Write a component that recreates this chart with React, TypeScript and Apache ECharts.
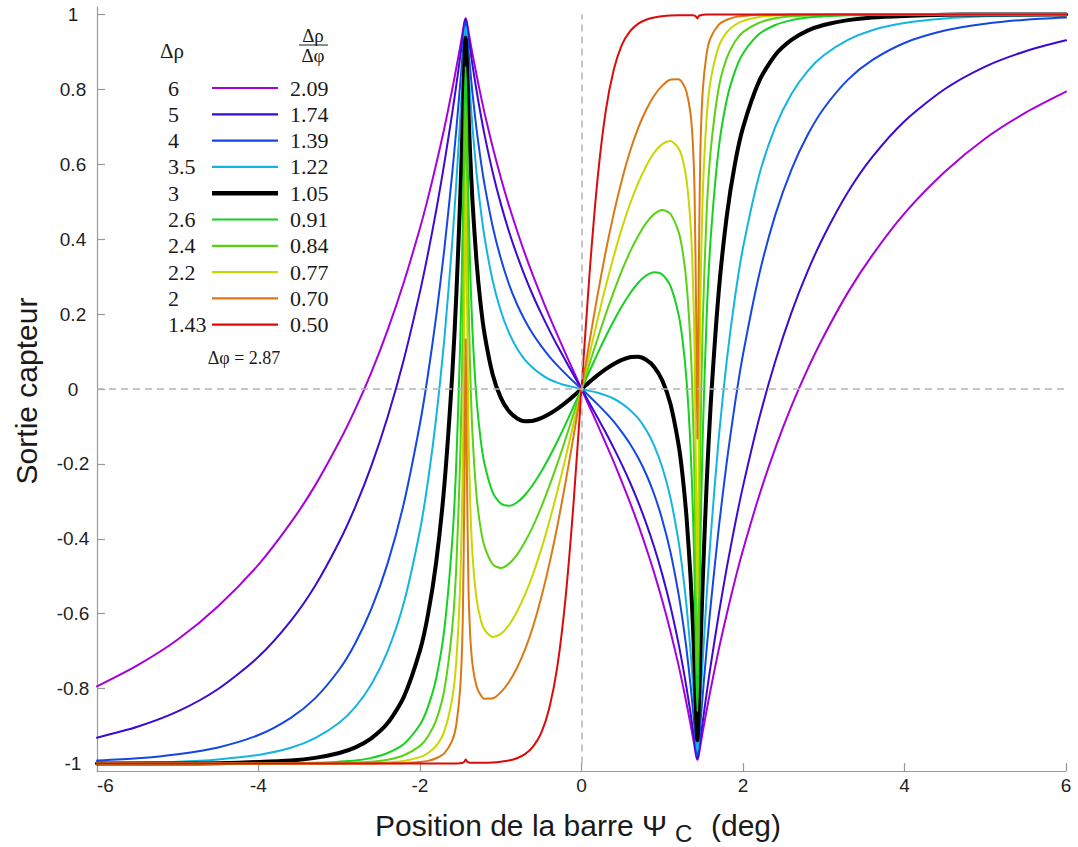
import React, { useEffect, useRef } from 'react';
import * as echarts from 'echarts';

// Bar position (deg)
const xs = [-6, -5.5, -5, -4.5, -4, -3.6, -3.3, -3, -2.8, -2.6, -2.4, -2.2, -2, -1.9, -1.8, -1.7, -1.6, -1.55, -1.5, -1.47,
  -1.45, -1.435, -1.42, -1.4, -1.38, -1.35, -1.3, -1.25, -1.2, -1.1, -1, -0.9, -0.8, -0.7, -0.6, -0.5, -0.4, -0.3, -0.2, -0.1,
  0, 0.1, 0.2, 0.3, 0.4, 0.5, 0.6, 0.7, 0.8, 0.9, 1, 1.1, 1.2, 1.25, 1.3, 1.35, 1.38, 1.4, 1.42, 1.435,
  1.45, 1.47, 1.5, 1.55, 1.6, 1.7, 1.8, 1.9, 2, 2.2, 2.4, 2.6, 2.8, 3, 3.3, 3.6, 4, 4.5, 5, 5.5, 6];

// Sensor output for each Δρ
const yRho6 = [-0.794, -0.738, -0.669, -0.580, -0.469, -0.357, -0.258, -0.141, -0.053, 0.046, 0.158, 0.285, 0.430, 0.511, 0.600, 0.695, 0.801, 0.858, 0.917, 0.955,
  0.980, 0.990, 0.980, 0.955, 0.930, 0.895, 0.839, 0.786, 0.736, 0.646, 0.565, 0.491, 0.424, 0.361, 0.303, 0.248, 0.195, 0.145, 0.096, 0.048,
  0, -0.048, -0.096, -0.145, -0.195, -0.248, -0.303, -0.361, -0.424, -0.491, -0.565, -0.646, -0.736, -0.786, -0.839, -0.895, -0.930, -0.955, -0.980, -0.990,
  -0.980, -0.955, -0.917, -0.858, -0.801, -0.695, -0.600, -0.511, -0.430, -0.285, -0.158, -0.046, 0.053, 0.141, 0.258, 0.357, 0.469, 0.580, 0.669, 0.738, 0.794];
const yRho5 = [-0.931, -0.902, -0.861, -0.801, -0.715, -0.619, -0.526, -0.408, -0.314, -0.204, -0.074, 0.079, 0.260, 0.363, 0.476, 0.601, 0.738, 0.812, 0.891, 0.940,
  0.974, 0.987, 0.974, 0.941, 0.910, 0.865, 0.797, 0.735, 0.678, 0.579, 0.495, 0.422, 0.358, 0.301, 0.249, 0.202, 0.158, 0.116, 0.077, 0.038,
  0, -0.038, -0.077, -0.116, -0.158, -0.202, -0.249, -0.301, -0.358, -0.422, -0.495, -0.579, -0.678, -0.735, -0.797, -0.865, -0.910, -0.941, -0.974, -0.987,
  -0.974, -0.940, -0.891, -0.812, -0.738, -0.601, -0.476, -0.363, -0.260, -0.079, 0.074, 0.204, 0.314, 0.408, 0.526, 0.619, 0.715, 0.801, 0.861, 0.902, 0.931];
const yRho4 = [-0.992, -0.986, -0.975, -0.957, -0.924, -0.878, -0.826, -0.749, -0.678, -0.586, -0.465, -0.305, -0.092, 0.040, 0.193, 0.371, 0.578, 0.694, 0.820, 0.901,
  0.957, 0.979, 0.958, 0.905, 0.857, 0.790, 0.694, 0.614, 0.545, 0.434, 0.349, 0.281, 0.227, 0.183, 0.146, 0.115, 0.087, 0.063, 0.041, 0.020,
  0, -0.020, -0.041, -0.063, -0.087, -0.115, -0.146, -0.183, -0.227, -0.281, -0.349, -0.434, -0.545, -0.614, -0.694, -0.790, -0.857, -0.905, -0.958, -0.979,
  -0.957, -0.901, -0.820, -0.694, -0.578, -0.371, -0.193, -0.040, 0.092, 0.305, 0.465, 0.586, 0.678, 0.749, 0.826, 0.878, 0.924, 0.957, 0.975, 0.986, 0.992];
const yRho35 = [-0.999, -0.997, -0.995, -0.989, -0.977, -0.958, -0.932, -0.891, -0.849, -0.788, -0.700, -0.571, -0.377, -0.244, -0.078, 0.130, 0.394, 0.552, 0.730, 0.849,
  0.934, 0.967, 0.936, 0.858, 0.789, 0.699, 0.578, 0.482, 0.404, 0.289, 0.209, 0.151, 0.109, 0.078, 0.056, 0.039, 0.026, 0.017, 0.010, 0.005,
  0, -0.005, -0.010, -0.017, -0.026, -0.039, -0.056, -0.078, -0.109, -0.151, -0.209, -0.289, -0.404, -0.482, -0.578, -0.699, -0.789, -0.858, -0.936, -0.967,
  -0.934, -0.849, -0.730, -0.552, -0.394, -0.130, 0.078, 0.244, 0.377, 0.571, 0.700, 0.788, 0.849, 0.891, 0.932, 0.958, 0.977, 0.989, 0.995, 0.997, 0.999];
const yRho3 = [-1, -1, -1, -0.999, -0.996, -0.992, -0.985, -0.972, -0.957, -0.932, -0.892, -0.822, -0.698, -0.601, -0.463, -0.261, 0.041, 0.252, 0.522, 0.721,
  0.873, 0.938, 0.878, 0.743, 0.633, 0.501, 0.341, 0.228, 0.146, 0.039, -0.023, -0.059, -0.078, -0.086, -0.085, -0.078, -0.067, -0.053, -0.037, -0.019,
  0, 0.019, 0.037, 0.053, 0.067, 0.078, 0.085, 0.086, 0.078, 0.059, 0.023, -0.039, -0.146, -0.228, -0.341, -0.501, -0.633, -0.743, -0.878, -0.938,
  -0.873, -0.721, -0.522, -0.252, -0.041, 0.261, 0.463, 0.601, 0.698, 0.822, 0.892, 0.932, 0.957, 0.972, 0.985, 0.992, 0.996, 0.999, 1, 1, 1];
const yRho26 = [-1, -1, -1, -1, -1, -0.999, -0.998, -0.995, -0.992, -0.985, -0.972, -0.948, -0.896, -0.848, -0.773, -0.644, -0.403, -0.194, 0.138, 0.445,
  0.727, 0.861, 0.740, 0.499, 0.330, 0.154, -0.026, -0.133, -0.201, -0.276, -0.306, -0.312, -0.303, -0.283, -0.255, -0.221, -0.182, -0.140, -0.095, -0.048,
  0, 0.048, 0.095, 0.140, 0.182, 0.221, 0.255, 0.283, 0.303, 0.312, 0.306, 0.276, 0.201, 0.133, 0.026, -0.154, -0.330, -0.499, -0.740, -0.861,
  -0.727, -0.445, -0.138, 0.194, 0.403, 0.644, 0.773, 0.848, 0.896, 0.948, 0.972, 0.985, 0.992, 0.995, 0.998, 0.999, 1, 1, 1, 1, 1];
const yRho24 = [-1, -1, -1, -1, -1, -1, -0.999, -0.999, -0.997, -0.995, -0.990, -0.978, -0.953, -0.927, -0.884, -0.805, -0.637, -0.472, -0.166, 0.177,
  0.555, 0.764, 0.580, 0.257, 0.061, -0.120, -0.284, -0.371, -0.421, -0.468, -0.478, -0.467, -0.443, -0.408, -0.366, -0.316, -0.260, -0.200, -0.135, -0.068,
  0, 0.068, 0.135, 0.200, 0.260, 0.316, 0.366, 0.408, 0.443, 0.467, 0.478, 0.468, 0.421, 0.371, 0.284, 0.120, -0.061, -0.257, -0.580, -0.764,
  -0.555, -0.177, 0.166, 0.472, 0.637, 0.805, 0.884, 0.927, 0.953, 0.978, 0.990, 0.995, 0.997, 0.999, 0.999, 1, 1, 1, 1, 1, 1];
const yRho22 = [-1, -1, -1, -1, -1, -1, -1, -1, -0.999, -0.999, -0.997, -0.993, -0.983, -0.972, -0.953, -0.915, -0.825, -0.725, -0.509, -0.204,
  0.241, 0.556, 0.282, -0.104, -0.292, -0.442, -0.560, -0.615, -0.643, -0.662, -0.654, -0.631, -0.595, -0.549, -0.494, -0.429, -0.355, -0.274, -0.186, -0.094,
  0, 0.094, 0.186, 0.274, 0.355, 0.429, 0.494, 0.549, 0.595, 0.631, 0.654, 0.662, 0.643, 0.615, 0.560, 0.442, 0.292, 0.104, -0.282, -0.556,
  -0.241, 0.204, 0.509, 0.725, 0.825, 0.915, 0.953, 0.972, 0.983, 0.993, 0.997, 0.999, 0.999, 1, 1, 1, 1, 1, 1, 1, 1];
const yRho2 = [-1, -1, -1, -1, -1, -1, -1, -1, -1, -1, -0.999, -0.999, -0.996, -0.993, -0.986, -0.973, -0.938, -0.896, -0.792, -0.613,
  -0.250, 0.133, -0.198, -0.528, -0.651, -0.735, -0.794, -0.817, -0.827, -0.826, -0.810, -0.783, -0.745, -0.696, -0.634, -0.558, -0.469, -0.367, -0.252, -0.128,
  0, 0.128, 0.252, 0.367, 0.469, 0.558, 0.634, 0.696, 0.745, 0.783, 0.810, 0.826, 0.827, 0.817, 0.794, 0.735, 0.651, 0.528, 0.198, -0.133,
  0.250, 0.613, 0.792, 0.896, 0.938, 0.973, 0.986, 0.993, 0.996, 0.999, 0.999, 1, 1, 1, 1, 1, 1, 1, 1, 1, 1];
const yRho143 = [-1, -1, -1, -1, -1, -1, -1, -1, -1, -1, -1, -1, -1, -1, -1, -1, -1, -1, -0.999, -0.998,
  -0.995, -0.989, -0.994, -0.997, -0.998, -0.998, -0.998, -0.998, -0.998, -0.997, -0.995, -0.992, -0.986, -0.975, -0.955, -0.919, -0.853, -0.742, -0.563, -0.309,
  0, 0.309, 0.563, 0.742, 0.853, 0.919, 0.955, 0.975, 0.986, 0.992, 0.995, 0.997, 0.998, 0.998, 0.998, 0.998, 0.998, 0.997, 0.994, 0.989,
  0.995, 0.998, 0.999, 1, 1, 1, 1, 1, 1, 1, 1, 1, 1, 1, 1, 1, 1, 1, 1, 1, 1];

const seriesValues = [yRho6, yRho5, yRho4, yRho35, yRho3, yRho26, yRho24, yRho22, yRho2, yRho143];
const rhoLabels = ['6', '5', '4', '3.5', '3', '2.6', '2.4', '2.2', '2', '1.43'];
const ratioLabels = ['2.09', '1.74', '1.39', '1.22', '1.05', '0.91', '0.84', '0.77', '0.70', '0.50'];
const seriesColors = ['#a800dc', '#3c0ad2', '#1446e6', '#14b4e1', '#000000', '#14d21e', '#5ad214', '#c8d700', '#dc7814', '#dc0a0a'];
const seriesWidths = [2, 2, 2, 2, 4, 2, 2, 2, 2, 2];

const yTicks = [-1, -0.8, -0.6, -0.4, -0.2, 0, 0.2, 0.4, 0.6, 0.8, 1];
const xTickStep = 2;
const phiNote = 'Δφ = 2.87';

const SANS = "'Liberation Sans', Arial, Helvetica, sans-serif";
const SERIF = "'Liberation Serif', 'Times New Roman', serif";

function txt(x: number, y: number, text: string, size: number, family: string, align: string, valign = 'middle', extra: any = {}) {
  return {
    type: 'text', x, y, silent: true, z: 100, ...extra,
    style: { text, fontSize: size, fontFamily: family, fill: '#1a1a1a', align, textAlign: align, verticalAlign: valign, textVerticalAlign: valign },
  };
}

export default function App() {
  const ref = useRef<HTMLDivElement>(null);
  useEffect(() => {
    const chart = echarts.init(ref.current as HTMLDivElement, null, { renderer: 'svg' });
    const series: any[] = seriesValues.map((ys, i) => ({
      type: 'line',
      name: rhoLabels[i],
      data: xs.map((x, j) => [x, ys[j]]),
      showSymbol: false,
      symbol: 'none',
      silent: true,
      clip: true,
      smooth: 0.25,
      lineStyle: { color: seriesColors[i], width: seriesWidths[i], join: 'round', cap: 'round' },
      itemStyle: { color: seriesColors[i] },
      z: 3,
    }));
    series.unshift({
      type: 'line', data: [], silent: true, symbol: 'none', z: 1,
      markLine: {
        silent: true, symbol: ['none', 'none'], label: { show: false }, animation: false,
        lineStyle: { color: '#b4b4b4', width: 1.5, type: [7, 5] },
        data: [
          [{ coord: [-6, 0] }, { coord: [6, 0] }],
          [{ coord: [0, -1] }, { coord: [0, 1] }],
        ],
      },
    });

    const graphic: any[] = [];
    // axis titles
    graphic.push(txt(26, 391, 'Sortie capteur', 30, SANS, 'center', 'middle', { rotation: Math.PI / 2 }));
    graphic.push(txt(667, 825, 'Position de la barre Ψ', 30, SANS, 'right'));
    graphic.push(txt(675, 833, 'C', 24, SANS, 'left'));
    graphic.push(txt(711, 825, '(deg)', 30, SANS, 'left'));
    // legend headers
    graphic.push(txt(160, 50.5, 'Δρ', 21, SERIF, 'left'));
    graphic.push(txt(313, 35, 'Δρ', 19, SERIF, 'center'));
    graphic.push({ type: 'line', silent: true, z: 100, shape: { x1: 299, y1: 45, x2: 328, y2: 45 }, style: { stroke: '#1a1a1a', lineWidth: 1 } });
    graphic.push(txt(313, 55.5, 'Δφ', 19, SERIF, 'center'));
    rhoLabels.forEach((r, i) => {
      const y = 88 + 26.3 * i;
      graphic.push(txt(168, y, r, 22, SERIF, 'left'));
      graphic.push({
        type: 'line', silent: true, z: 100,
        shape: { x1: 212, y1: y, x2: 278, y2: y },
        style: { stroke: seriesColors[i], lineWidth: seriesWidths[i] === 4 ? 4.5 : 2.2 },
      });
      graphic.push(txt(290, y, ratioLabels[i], 22, SERIF, 'left'));
    });
    graphic.push(txt(244, 357.5, phiNote, 18, SERIF, 'center'));

    chart.setOption({
      animation: false,
      backgroundColor: '#ffffff',
      grid: { left: 97, right: 12, top: 7, bottom: 76, containLabel: false, outerBoundsMode: 'none' },
      xAxis: {
        type: 'value', min: -6, max: 6, interval: xTickStep,
        axisLine: { show: true, onZero: false, lineStyle: { color: '#999999', width: 1.2 } },
        axisTick: { show: true, inside: true, length: 8, lineStyle: { color: '#999999', width: 1.2 } },
        axisLabel: { show: true, fontSize: 19, fontFamily: SANS, color: '#1f1f1f', margin: 5, alignMinLabel: 'left' },
        splitLine: { show: false },
      },
      yAxis: {
        type: 'value', min: -1.02, max: 1.02,
        axisLine: { show: true, onZero: false, lineStyle: { color: '#999999', width: 1.2 } },
        axisTick: { show: true, inside: true, length: 8, customValues: yTicks, lineStyle: { color: '#999999', width: 1.2 } },
        axisLabel: {
          show: true, customValues: yTicks, fontSize: 19, fontFamily: SANS, color: '#1f1f1f', margin: 24, align: 'center',
          formatter: (v: number) => String(Math.round(v * 10) / 10),
        },
        splitLine: { show: false },
      },
      series,
      graphic,
    });
    return () => chart.dispose();
  }, []);
  return <div ref={ref} style={{ position: 'absolute', left: 0, top: 0, width: 1078, height: 847 }} />;
}
